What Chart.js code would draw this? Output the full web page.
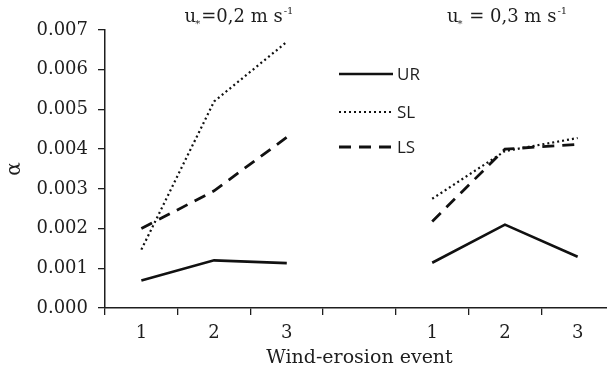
<!DOCTYPE html>
<html><head><meta charset="utf-8">
<script src="https://cdn.jsdelivr.net/npm/chart.js@4.4.1/dist/chart.umd.min.js"></script>
<style>html,body{margin:0;padding:0;background:#fff;overflow:hidden;width:607px;height:381px}canvas{display:block}</style>
</head><body><canvas id="c" width="620" height="381"></canvas>
<script>
// ---- data ----
const categories = ['1', '2', '3', '', '1', '2', '3'];
const seriesNames = ['UR', 'SL', 'LS'];
const UR = [0.00069, 0.00120, 0.00113, null, 0.00114, 0.00210, 0.00129];
const SL = [0.00147, 0.00520, 0.00670, null, 0.00275, 0.00395, 0.00428];
const LS = [0.00200, 0.00295, 0.00430, null, 0.00218, 0.00400, 0.00412];
const yTicks = [0, 0.001, 0.002, 0.003, 0.004, 0.005, 0.006, 0.007];
const groupTitles = ['=0,2 m s', ' = 0,3 m s'];
const xTitle = 'Wind-erosion event';
const yTitle = 'α';

const INK = '#1e1e1e';
Chart.defaults.font.family = '"DejaVu Serif", serif';
Chart.defaults.color = INK;

const annot = {
  id: 'annot',
  afterDraw(chart) {
    const ctx = chart.ctx;
    ctx.save();
    // legend inside plot
    const legendY = [74, 112, 147];
    chart.data.datasets.forEach((ds, i) => {
      const y = legendY[i];
      ctx.beginPath();
      ctx.setLineDash(ds.borderDash || []);
      ctx.lineWidth = ds.borderWidth;
      ctx.strokeStyle = ds.borderColor;
      ctx.moveTo(339, y); ctx.lineTo(393, y); ctx.stroke();
      ctx.setLineDash([]);
      ctx.fillStyle = INK;
      ctx.font = '17px "Open Sans"';
      ctx.textBaseline = 'middle';
      ctx.textAlign = 'left';
      ctx.fillText(ds.label, 397, y + 1);
    });
    // group titles
    const centers = [239, 507];
    groupTitles.forEach((t, i) => {
      const big = '18px "DejaVu Serif"', small = '10px "DejaVu Serif"';
      ctx.font = big; const wu = ctx.measureText('u').width; const wt = ctx.measureText(t).width;
      ctx.font = small; const ws = ctx.measureText('*').width; const wsup = ctx.measureText('-1').width;
      const total = wu + ws + wt + wsup + 1;
      let x = centers[i] - total / 2;
      const base = 22;
      ctx.textAlign = 'left'; ctx.textBaseline = 'alphabetic'; ctx.fillStyle = INK;
      ctx.font = big; ctx.fillText('u', x, base); x += wu;
      ctx.font = small; ctx.fillText('*', x - 1, base + 5); x += ws;
      ctx.font = big; ctx.fillText(t, x, base); x += wt + 1;
      ctx.font = small; ctx.fillText('-1', x, base - 8);
    });
    ctx.restore();
  }
};

new Chart(document.getElementById('c'), {
  type: 'line',
  data: {
    labels: categories,
    datasets: [
      { label: seriesNames[0], data: UR, borderColor: '#111', borderWidth: 2.6, borderDash: [], pointRadius: 0, tension: 0 },
      { label: seriesNames[1], data: SL, borderColor: '#111', borderWidth: 2.2, borderDash: [2, 3], pointRadius: 0, tension: 0 },
      { label: seriesNames[2], data: LS, borderColor: '#111', borderWidth: 2.8, borderDash: [12, 8], pointRadius: 0, tension: 0 }
    ]
  },
  options: {
    responsive: false,
    animation: false,
    devicePixelRatio: 1,
    layout: { padding: { top: 30, right: 6, left: 0, bottom: 0 } },
    plugins: { legend: { display: false }, tooltip: { enabled: false } },
    scales: {
      x: {
        type: 'category',
        offset: true,
        grid: { offset: true, drawOnChartArea: false, drawTicks: true, tickLength: 7, color: INK, lineWidth: 1.3 },
        border: { display: true, color: INK, width: 1.5 },
        ticks: { font: { size: 18 }, padding: 8, color: INK, maxRotation: 0, autoSkip: false },
        title: { display: true, text: xTitle, font: { size: 19 }, color: INK, padding: { top: 0, bottom: 12 } },
        afterFit(s) { s.height = 73; }
      },
      y: {
        min: 0, max: 0.007,
        afterBuildTicks(s) { s.ticks = yTicks.map(v => ({ value: v })); },
        grid: { drawOnChartArea: false, drawTicks: true, tickLength: 7, color: INK, lineWidth: 1.3 },
        border: { display: true, color: INK, width: 1.5 },
        ticks: { font: { size: 18 }, padding: 10, color: INK, callback: v => Number(v).toFixed(3) },
        title: { display: true, text: yTitle, font: { size: 20 }, color: INK, padding: { top: 3, bottom: 0 } },
        afterFit(s) { s.width = 105; }
      }
    }
  },
  plugins: [annot]
});
</script>
</body></html>
